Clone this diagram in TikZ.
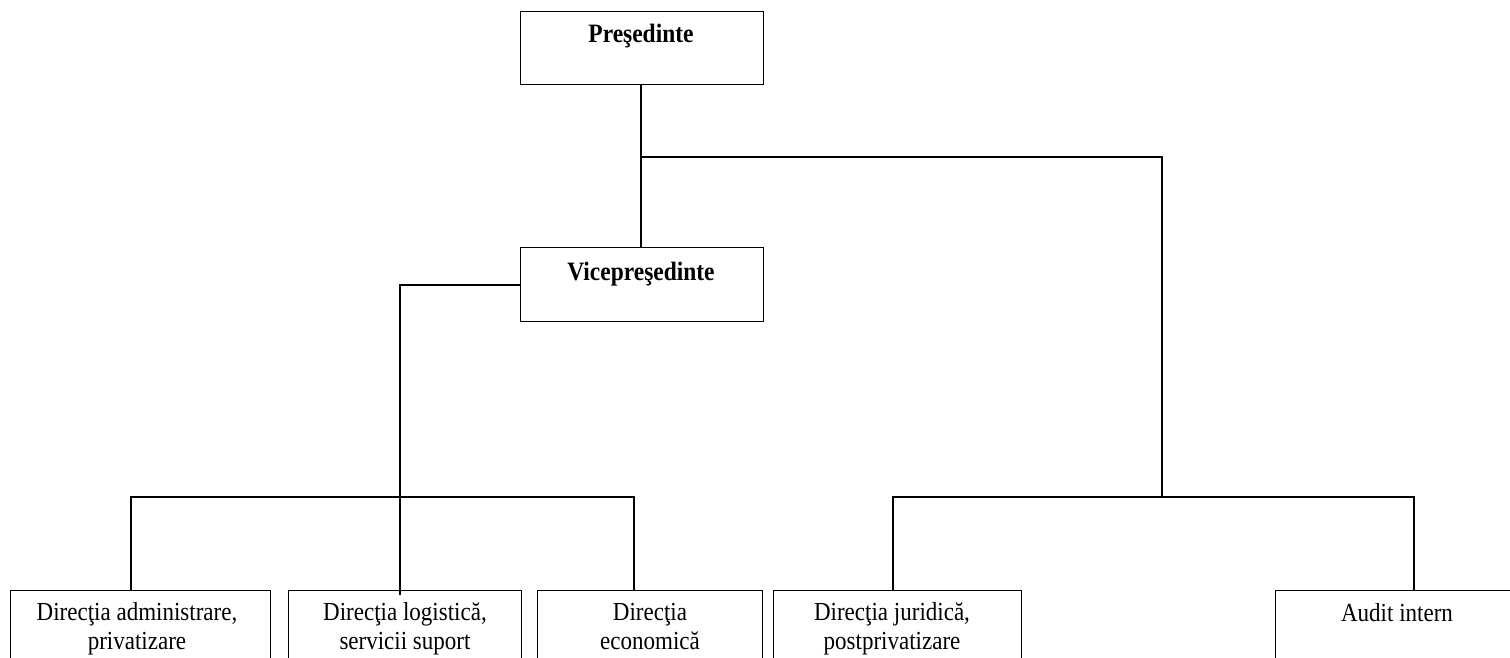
\documentclass[tikz,border=0pt]{standalone}
\usepackage{fontspec}
\setmainfont[FakeStretch=0.885]{Liberation Serif}
\begin{document}
\begin{tikzpicture}[x=1pt,y=-1pt,
  box/.style={draw, line width=1.4pt, inner sep=0pt, anchor=north west},
  txt/.style={inner sep=0pt, anchor=base, align=center, font=\fontsize{26}{29}\selectfont},
  btxt/.style={inner sep=0pt, anchor=base, align=center, font=\fontsize{26.5}{29}\selectfont\bfseries},
  mtxt/.style={inner sep=0pt, anchor=north, align=center, font=\fontsize{26}{29}\selectfont},
  conn/.style={line width=1.4pt}]
\useasboundingbox (0,0) rectangle (1510,658);
\clip (0,0) rectangle (1510,658);
% boxes
\node[box, minimum width=243pt, minimum height=73pt] (p) at (520,11) {};
\node[box, minimum width=243pt, minimum height=74pt] (v) at (520,247) {};
\node[box, minimum width=260pt, minimum height=120pt] (b1) at (10,590) {};
\node[box, minimum width=233pt, minimum height=120pt] (b2) at (288,590) {};
\node[box, minimum width=225pt, minimum height=120pt] (b3) at (537,590) {};
\node[box, minimum width=248pt, minimum height=120pt] (b4) at (773,590) {};
\node[box, minimum width=244pt, minimum height=120pt] (b5) at (1275,590) {};
% texts
\node[btxt] (tp) at (641,43) {Preşedinte};
\node[btxt] (tv) at (641,280) {Vicepreşedinte};
\node[mtxt] (t1) at (137,599.7) {\strut Direcţia administrare,\\privatizare};
\node[mtxt] (t2) at (405,599.7) {\strut Direcţia logistică,\\servicii suport};
\node[mtxt] (t3) at (650,599.7) {\strut Direcţia\\economică};
\node[mtxt] (t4) at (892,599.7) {\strut Direcţia juridică,\\postprivatizare};
\node[txt] (t5) at (1397,621) {Audit intern};
% connector coordinates
\coordinate (j1) at (641,157);
\coordinate (r1) at (1162,497);
\coordinate (d1) at (131,497);
\coordinate (d3) at (634,497);
\coordinate (d4) at (893,497);
\coordinate (d5) at (1414,497);
\coordinate (e2) at (400,595);
% connectors
\draw[conn] (p.south -| j1) -- (v.north -| j1);
\draw[conn] (j1) -| (r1);
\draw[conn] (v.west |- 0,285) -| (e2);
\draw[conn] (d1 |- b1.north) -- (d1) -- (d3) -- (d3 |- b3.north);
\draw[conn] (d4 |- b4.north) -- (d4) -- (d5) -- (d5 |- b5.north);
\end{tikzpicture}
\end{document}
